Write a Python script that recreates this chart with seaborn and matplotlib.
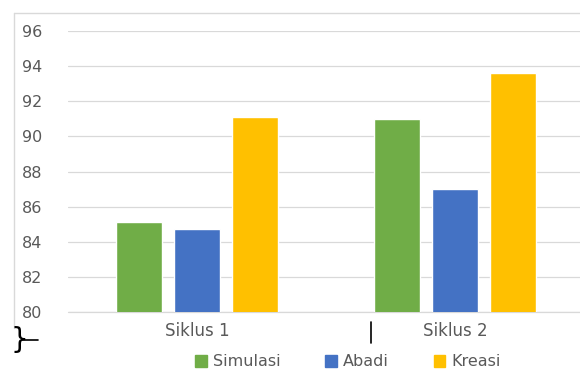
import matplotlib
matplotlib.use("Agg")
import matplotlib.pyplot as plt
from matplotlib.lines import Line2D
import seaborn as sns
import pandas as pd

categories = ["Siklus 1", "Siklus 2"]
series = ["Simulasi", "Abadi", "Kreasi"]
simulasi = [85.1, 91.0]
abadi = [84.7, 87.0]
kreasi = [91.1, 93.6]
yticks = [80, 82, 84, 86, 88, 90, 92, 94, 96]
colors = ["#70AD47", "#4472C4", "#FFC000"]

rows = []
for name, vals in zip(series, [simulasi, abadi, kreasi]):
    for c, v in zip(categories, vals):
        rows.append({"Siklus": c, "Metode": name, "Nilai": v})
df = pd.DataFrame(rows)

sns.set_theme(style="white")
plt.rcParams["font.family"] = ["DejaVu Sans"]

W, H = 580, 372
fig = plt.figure(figsize=(W / 100, H / 100), dpi=100)
ax = fig.add_axes([68 / W, 1 - 312 / H, 516 / W, (312 - 31) / H])

sns.barplot(data=df, x="Siklus", y="Nilai", hue="Metode", order=categories,
            hue_order=series, palette=colors, width=0.67, gap=0.2,
            saturation=1, ax=ax, legend=True)

ax.set_ylim(80, 96)
ax.set_xlim(-0.5, 1.5)
ax.set_yticks(yticks)
ax.set_yticklabels([str(t) for t in yticks])
ax.yaxis.grid(True, color="#D9D9D9", linewidth=0.9)
ax.axhline(80, color="#D9D9D9", linewidth=0.9, clip_on=False, zorder=0)
ax.set_axisbelow(True)
for s in ax.spines.values():
    s.set_visible(False)
ax.set_xlabel("")
ax.set_ylabel("")
ax.tick_params(axis="y", length=0, pad=18.5, labelsize=11.5, labelcolor="#595959")
ax.tick_params(axis="x", length=0, pad=7, labelsize=12, labelcolor="#595959")

ax.legend_.remove()
handles = [plt.Rectangle((0, 0), 1, 1, color=c) for c in colors]
fig.legend(handles, series, loc="center", bbox_to_anchor=(348 / W, 1 - 362 / H),
           ncol=3, frameon=False, fontsize=11.5, labelcolor="#595959",
           handlelength=0.7, handleheight=0.7, handletextpad=0.4,
           columnspacing=2.8)

# chart border
fig.add_artist(Line2D([14 / W, 1.0], [1 - 13 / H, 1 - 13 / H], color="#D9D9D9", lw=1))
fig.add_artist(Line2D([14 / W, 14 / W], [1 - 13 / H, 1 - 328 / H], color="#D9D9D9", lw=1))
# stray marks
fig.text(10 / W, 1 - 340 / H, "}", fontsize=20, color="black", ha="left", va="center")
fig.add_artist(Line2D([22 / W, 38 / W], [1 - 340 / H, 1 - 340 / H], color="black", lw=1.2))
fig.add_artist(Line2D([371 / W, 371 / W], [1 - 322 / H, 1 - 343 / H], color="black", lw=1.2))

fig.savefig("out.png", dpi=100)
